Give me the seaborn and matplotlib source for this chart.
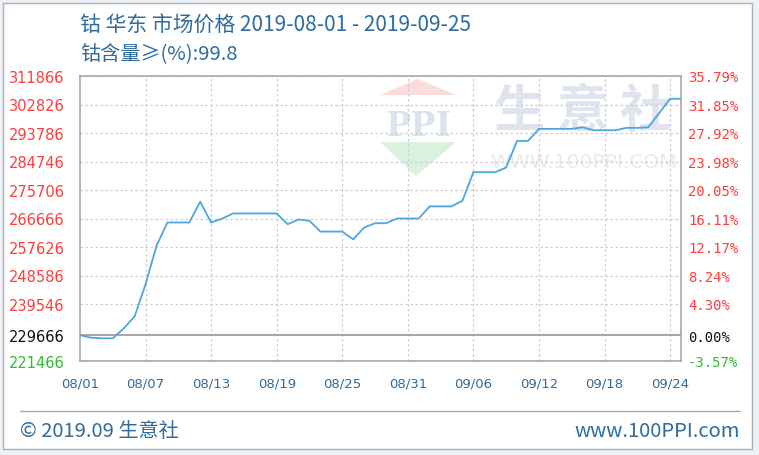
import matplotlib
matplotlib.use("Agg")
import matplotlib.pyplot as plt
from matplotlib.patches import Polygon, Rectangle
import seaborn as sns
import pandas as pd

# data (daily, 08/01 .. 09/25)
dates = pd.date_range("2019-08-01", "2019-09-25", freq="D")
prices = [229666, 228866, 228666, 228666, 231800, 235600, 245800, 258000,
          265400, 265400, 265400, 272000, 265400, 266600, 268260, 268260,
          268260, 268260, 268260, 264845, 266347, 265931, 262514, 262514,
          262514, 260054, 263791, 265165, 265165, 266666, 266666, 266666,
          270499, 270499, 270499, 272320, 281358, 281358, 281358, 282834,
          291290, 291290, 295091, 295091, 295091, 295091, 295600, 294670,
          294670, 294670, 295410, 295410, 295600, 300100, 304640, 304640]
base_price = 229666
y_ticks = [221466, 229666, 239546, 248586, 257626, 266666, 275706,
           284746, 293786, 302826, 311866]
x_tick_labels = ["08/01", "08/07", "08/13", "08/19", "08/25",
                 "08/31", "09/06", "09/12", "09/18", "09/24"]
title_line1 = "钴 华东 市场价格 2019-08-01 - 2019-09-25"
title_line2 = "钴含量≥(%):99.8"

df = pd.DataFrame({"date": dates, "price": prices})

sns.set_style("white")
plt.rcParams["font.family"] = ["Noto Sans CJK SC", "DejaVu Sans"]

W, H = 759, 456
fig = plt.figure(figsize=(W / 100, H / 100), dpi=100)
fig.patch.set_facecolor("#eef2f7")


def fx(px):
    return px / W


def fy(py):
    return 1 - py / H


# white panel with border
fig.patches.append(Rectangle((fx(3), fy(450)), fx(752) - fx(3), fy(4) - fy(450),
                             transform=fig.transFigure, facecolor="white",
                             edgecolor="#b0b0b0", lw=1.0, zorder=-2))

# watermark
fig.patches.append(Polygon([(fx(380), fy(96)), (fx(418), fy(80)), (fx(456), fy(96))],
                           closed=True, transform=fig.transFigure,
                           facecolor="#f9dcdc", edgecolor="none", zorder=-1))
fig.patches.append(Polygon([(fx(380), fy(143)), (fx(456), fy(143)), (fx(416), fy(177))],
                           closed=True, transform=fig.transFigure,
                           facecolor="#daf1de", edgecolor="none", zorder=-1))
fig.text(fx(418), fy(127), "PPI", ha="center", va="center", fontsize=24,
         family=["DejaVu Serif"], fontweight="bold", color="#dde3ee", zorder=-1)
fig.text(fx(583), fy(111), "生 意 社", ha="center", va="center", fontsize=37,
         fontweight="bold", color="#dfe4ee", zorder=-1)
fig.text(fx(584), fy(162), "WWW.100PPI.COM", ha="center", va="center", fontsize=14.5,
         family=["DejaVu Sans"], color="#eaeaea", zorder=-1)

ax = fig.add_axes([fx(80), fy(362), fx(681) - fx(80), fy(77) - fy(362)])
ax.set_zorder(2)
ax.patch.set_alpha(0)

# grid
grid_kw = dict(color="#cdcdcd", lw=0.9, linestyle=(0, (2, 2)), zorder=2)
for v in y_ticks[2:]:
    ax.axhline(v, **grid_kw)
x_ticks = pd.to_datetime(["2019-" + s.replace("/", "-") for s in x_tick_labels])
for d in x_ticks[1:]:
    ax.axvline(d, **grid_kw)
ax.axhline(base_price, color="#a0a0a0", lw=1.3, zorder=3)

sns.lineplot(data=df, x="date", y="price", ax=ax, color="#4ea6e0", lw=1.3, zorder=4)

ax.set_xlim(dates[0], dates[-1])
ax.set_ylim(y_ticks[0], y_ticks[-1])
ax.set_xlabel("")
ax.set_ylabel("")
ax.set_xticks(x_ticks)
ax.set_xticklabels(x_tick_labels, family=["DejaVu Sans"], fontsize=9.5, color="#2f6b9c")
ax.set_yticks(y_ticks)
ax.set_yticklabels([str(v) for v in y_ticks], family=["DejaVu Sans"], fontsize=10.5)
ax.tick_params(axis="x", length=0, pad=11)
ax.tick_params(axis="y", length=0, pad=11)

tick_colors = ["#33bb33", "#111111"] + ["#ff3b3b"] * (len(y_ticks) - 2)
for lab, c in zip(ax.get_yticklabels(), tick_colors):
    lab.set_color(c)

for s in ax.spines.values():
    s.set_color("#a8a8a8")
    s.set_linewidth(1.2)

ax2 = ax.twinx()
ax2.set_zorder(2)
ax2.set_ylim(ax.get_ylim())
ax2.set_yticks(y_ticks)
ax2.set_yticklabels(["%.2f%%" % ((v - base_price) / base_price * 100) for v in y_ticks],
                    family=["DejaVu Sans Mono"], fontsize=10)
ax2.tick_params(axis="y", length=0, pad=5)
for lab, c in zip(ax2.get_yticklabels(), tick_colors):
    lab.set_color(c)
for s in ax2.spines.values():
    s.set_visible(False)

# titles
fig.text(fx(80), fy(25), title_line1, ha="left", va="center", fontsize=15, color="#2f6b9c")
fig.text(fx(80), fy(54), title_line2, ha="left", va="center", fontsize=14.5, color="#2f6b9c")

# footer
fig.add_artist(plt.Line2D([fx(20), fx(740)], [fy(412), fy(412)],
                          transform=fig.transFigure, color="#a8a8a8", lw=1.0))
fig.text(fx(20), fy(432), "© 2019.09 生意社", ha="left", va="center",
         fontsize=14.5, color="#2f6b9c")
fig.text(fx(740), fy(432), "www.100PPI.com", ha="right", va="center",
         fontsize=14.5, color="#2f6b9c")

fig.savefig("out.png", dpi=100, facecolor=fig.get_facecolor())
